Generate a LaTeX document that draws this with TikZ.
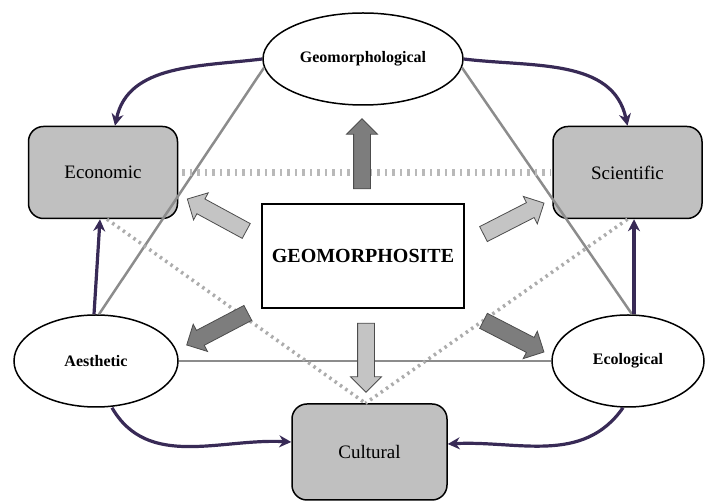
\documentclass[tikz,border=0pt]{standalone}
\usepackage{fontspec}
\setmainfont{Liberation Serif}
\usetikzlibrary{shapes.geometric,shapes.arrows,arrows.meta}
\definecolor{boxgray}{RGB}{192,192,192}
\definecolor{purp}{RGB}{56,42,86}
\definecolor{linegray}{RGB}{140,140,140}
\definecolor{dotgray}{RGB}{172,172,172}
\definecolor{tickgray}{RGB}{185,185,185}
\definecolor{darkfat}{RGB}{125,125,125}
\definecolor{lightfat}{RGB}{196,196,196}
\begin{document}
\begin{tikzpicture}[x=1pt,y=1pt,
  rbox/.style={draw=black, line width=1.5pt, fill=boxgray, rounded corners=15pt,
    minimum width=149pt, minimum height=92pt, inner sep=0pt,
    font=\fontsize{19}{22}\selectfont},
  oval/.style={ellipse, draw=black, line width=1.5pt, fill=white, inner sep=0pt,
    font=\fontsize{16}{19}\selectfont\bfseries},
  rel/.style={purp, line width=3.2pt, -{Stealth[length=12pt,width=12pt]}},
  link/.style={linegray, line width=2.5pt},
  dotlink/.style={dotgray, line width=3.5pt, dash pattern=on 2.5pt off 4pt},
  ticklink/.style={tickgray, line width=7pt, dash pattern=on 2.5pt off 5pt},
  fat/.style={single arrow, draw=black!70, line width=0.8pt, inner xsep=0pt,
    inner ysep=8pt, single arrow head extend=7pt, single arrow tip angle=90,
    single arrow head indent=0pt},
]
\useasboundingbox (0,0) rectangle (705,503);

% nodes
\node[oval, minimum width=200pt, minimum height=92pt] (geo) at (363,444) {Geomorphological};
\node[rbox] (eco) at (103,330.5) {Economic};
\node[rbox] (sci) at (627.5,330.5) {Scientific};
\node[rbox, minimum width=155pt, minimum height=96pt] (cul) at (369.5,51) {Cultural};
\node[draw=black, line width=2pt, fill=white, minimum width=202pt, minimum height=104pt,
      inner sep=0pt, font=\fontsize{20}{24}\selectfont\bfseries] (gm) at (363,247) {GEOMORPHOSITE};
\node[oval, minimum width=164pt, minimum height=92pt] (aes) at (96,142) {Aesthetic};
\node[oval, minimum width=152pt, minimum height=92pt] (ecl) at (628,142) {Ecological};

% solid gray links
\draw[link] (geo.185) -- ([xshift=3pt]aes.north);
\draw[link] (geo.-5) -- ([xshift=4pt]ecl.north);
\draw[link] (aes.east) -- (ecl.west);

% dotted links
\draw[ticklink] ([xshift=4pt]eco.east) -- ([xshift=-2pt]sci.west);
\coordinate (cultop) at ([xshift=-4pt]cul.north);
\draw[dotlink] ([xshift=4pt]eco.south) -- (cultop);
\draw[dotlink] ([xshift=0pt]sci.south) -- (cultop);

% purple relations
\draw[rel] (geo.west) to[out=187, in=78] ([xshift=12pt]eco.north);
\draw[rel] (geo.east) to[out=-7, in=102] ([xshift=0pt]sci.north);
\draw[rel] ([xshift=-2pt]aes.north) -- ([xshift=-3pt]eco.south);
\draw[rel] ([xshift=6pt]ecl.north) -- ([xshift=6.5pt]sci.south);
\draw[rel] ([xshift=16pt]aes.south) to[out=-60, in=177] ([yshift=10pt]cul.west);
\draw[rel] ([xshift=-5pt]ecl.south) to[out=235, in=3] ([yshift=8pt]cul.east);

% fat arrows from the geomorphosite
\node[fat, fill=darkfat, minimum height=70pt, rotate=90] (fup) at (362,345) {};
\node[fat, fill=lightfat, minimum height=69pt, rotate=-90] (fdown) at (366,149.5) {};
\node[fat, fill=lightfat, minimum height=67pt, rotate=151.5] (ful) at (220.5,286) {};
\node[fat, fill=lightfat, minimum height=68pt, rotate=27.1] (fur) at (510,282.5) {};
\node[fat, fill=darkfat, minimum height=69pt, rotate=207.7] (fll) at (221,176) {};
\node[fat, fill=darkfat, minimum height=68pt, rotate=-27.3] (flr) at (510,168.5) {};
\end{tikzpicture}
\end{document}
